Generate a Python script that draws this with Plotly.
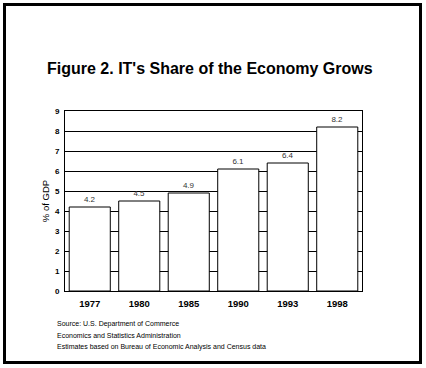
import plotly.graph_objects as go

years = ["1977", "1980", "1985", "1990", "1993", "1998"]
share = [4.2, 4.5, 4.9, 6.1, 6.4, 8.2]
share_labels = ["4.2", "4.5", "4.9", "6.1", "6.4", "8.2"]
y_ticks = [0, 1, 2, 3, 4, 5, 6, 7, 8, 9]

title_text = "Figure 2. IT's Share of the Economy Grows"
source_lines = [
    "Source: U.S. Department of Commerce",
    "Economics and Statistics Administration",
    "Estimates based on Bureau of Economic Analysis and Census data",
]

W, H = 426, 368
L, R, T, B = 65, 64, 111, 77
PW, PH = W - L - R, H - T - B

def px(x):
    return (x - L) / PW

def py(y):
    return (H - B - y) / PH

fig = go.Figure()
fig.add_trace(go.Bar(
    x=years, y=share,
    marker=dict(color="white", line=dict(color="black", width=1)),
    text=share_labels, textposition="outside",
    textfont=dict(family="Liberation Sans, Arial", size=8, color="#333333"),
    cliponaxis=False,
    width=0.83,
))

fig.update_layout(
    width=W, height=H,
    margin=dict(l=L, r=R, t=T, b=B),
    paper_bgcolor="white", plot_bgcolor="white",
    showlegend=False,
    font=dict(family="Liberation Sans, Arial", color="black"),
    xaxis=dict(
        showgrid=False, showline=True, linecolor="black", linewidth=1, mirror=True,
        ticks="", tickfont=dict(size=9.5, family="Liberation Sans, Arial", weight="bold"),
        ticklabelstandoff=4,
    ),
    yaxis=dict(
        range=[0, 9], tickvals=y_ticks,
        showgrid=True, gridcolor="black", gridwidth=1,
        showline=True, linecolor="black", linewidth=1, mirror=True,
        zeroline=False, ticks="",
        tickfont=dict(size=8, family="Liberation Sans, Arial", weight="bold"),
        title=dict(text="% of GDP", font=dict(size=9.5), standoff=3),
        ticklabelstandoff=3,
    ),
)

fig.add_annotation(
    text=title_text, xref="paper", yref="paper",
    x=px(210), y=py(68), xanchor="center", yanchor="middle",
    showarrow=False,
    font=dict(size=16, family="Liberation Sans, Arial", weight="bold", color="black"),
)

for line, yc in zip(source_lines, [324, 335, 347]):
    fig.add_annotation(
        text=line, xref="paper", yref="paper",
        x=px(55), y=py(yc), xanchor="left", yanchor="middle",
        showarrow=False,
        font=dict(size=7, family="Liberation Sans, Arial", color="black"),
    )

fig.add_shape(
    type="rect", xref="paper", yref="paper",
    x0=px(4.5), x1=px(420.5), y0=py(4.5), y1=py(362.5),
    line=dict(color="black", width=3), fillcolor="rgba(0,0,0,0)", layer="above",
)

fig.write_html(
    "out.html",
    config={"displayModeBar": False},
    post_script="document.body.style.margin='0';document.body.style.overflow='hidden';",
)
